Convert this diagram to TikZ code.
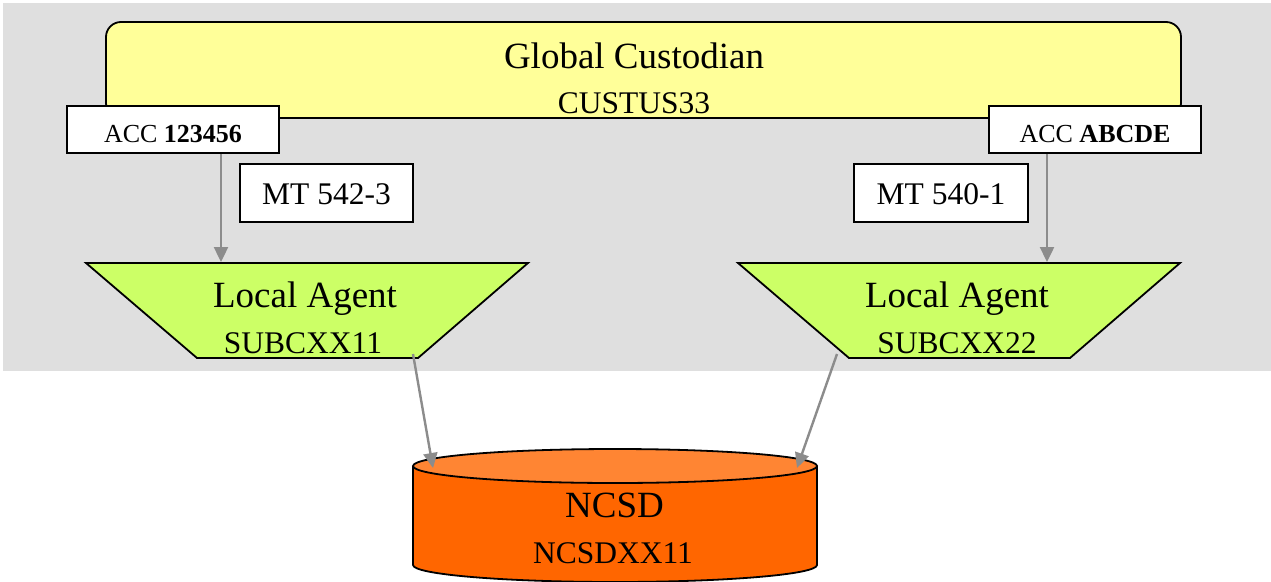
\documentclass[tikz,border=0pt]{standalone}
\usepackage{fontspec}
\setmainfont{Liberation Serif}
\usetikzlibrary{arrows.meta}
\definecolor{panelgray}{HTML}{DFDFDF}
\definecolor{custyellow}{HTML}{FFFF99}
\definecolor{agentgreen}{HTML}{CCFF66}
\definecolor{csdbody}{HTML}{FF6600}
\definecolor{csdtop}{HTML}{FF8533}
\definecolor{flowgray}{HTML}{8C8C8C}
\newcommand{\bigtxt}{\fontsize{37}{44}\selectfont}
\newcommand{\midtxt}{\fontsize{31.5}{38}\selectfont}
\newcommand{\acctxt}{\fontsize{26}{31}\selectfont}
\begin{document}
\begin{tikzpicture}[x=1pt,y=-1pt,
  outline/.style={draw=black,line width=1.8pt},
  labelbox/.style={outline,fill=white,inner sep=0pt},
  txt/.style={anchor=base,inner sep=0pt},
  flow/.style={draw=flowgray,line width=2.4pt,-{Triangle[length=15pt,width=14pt]}}]
\useasboundingbox (0,0) rectangle (1271,581);
% grey panel behind the custodian side
\fill[panelgray] (3,3) rectangle (1271,371);

% global custodian
\node[outline,fill=custyellow,rounded corners=15pt,minimum width=1075pt,minimum height=96pt,inner sep=0pt] (gc) at (643.5,70) {};
\node[txt] (gcname) at (634,68) {\bigtxt Global Custodian};
\node[txt] (gcbic) at (634,113) {\midtxt CUSTUS33};

% accounts
\node[labelbox,minimum width=212pt,minimum height=47pt] (acc1) at (173,129.5) {};
\node[txt] (acc1t) at (173,142) {\acctxt ACC \textbf{123456}};
\node[labelbox,minimum width=212pt,minimum height=47pt] (acc2) at (1095,129.5) {};
\node[txt] (acc2t) at (1095,142) {\acctxt ACC \textbf{ABCDE}};

% message types
\node[labelbox,minimum width=173pt,minimum height=58pt] (mt1) at (326.5,193) {};
\node[txt] (mt1t) at (326.5,204) {\midtxt MT 542-3};
\node[labelbox,minimum width=174pt,minimum height=58pt] (mt2) at (941,193) {};
\node[txt] (mt2t) at (941,204) {\midtxt MT 540-1};

% local agents
\draw[outline,fill=agentgreen] (86,263) coordinate (la1tl) -- (528,263) -- (418,358) -- (197,358) -- cycle;
\node[txt] (la1name) at (305,307) {\bigtxt Local Agent};
\node[txt] (la1bic) at (303,353) {\midtxt SUBCXX11};
\draw[outline,fill=agentgreen] (738,263) coordinate (la2tl) -- (1180,263) -- (1070,358) -- (849,358) -- cycle;
\node[txt] (la2name) at (957,307) {\bigtxt Local Agent};
\node[txt] (la2bic) at (957,353) {\midtxt SUBCXX22};

% central securities depository
\fill[csdbody] (413,466) -- (413,565) arc[start angle=180,end angle=0,x radius=202,y radius=17] -- (817,466) -- cycle;
\draw[outline] (413,466) -- (413,565) arc[start angle=180,end angle=0,x radius=202,y radius=17] -- (817,466);
\draw[outline,fill=csdtop] (615,466) ellipse[x radius=202,y radius=17];
\node[txt] (csdname) at (614.5,517) {\bigtxt NCSD};
\node[txt] (csdbic) at (613,563) {\midtxt NCSDXX11};

% connector end points
\coordinate (la1in) at (221,262);
\coordinate (la2in) at (1047,262);
\coordinate (la1out) at (413,354);
\coordinate (la2out) at (837,354);
\coordinate (csdin1) at (433,468);
\coordinate (csdin2) at (797,468);

% flows
\draw[flow] (la1in |- acc1.south) -- (la1in);
\draw[flow] (la2in |- acc2.south) -- (la2in);
\draw[flow] (la1out) -- (csdin1);
\draw[flow] (la2out) -- (csdin2);
\end{tikzpicture}
\end{document}
